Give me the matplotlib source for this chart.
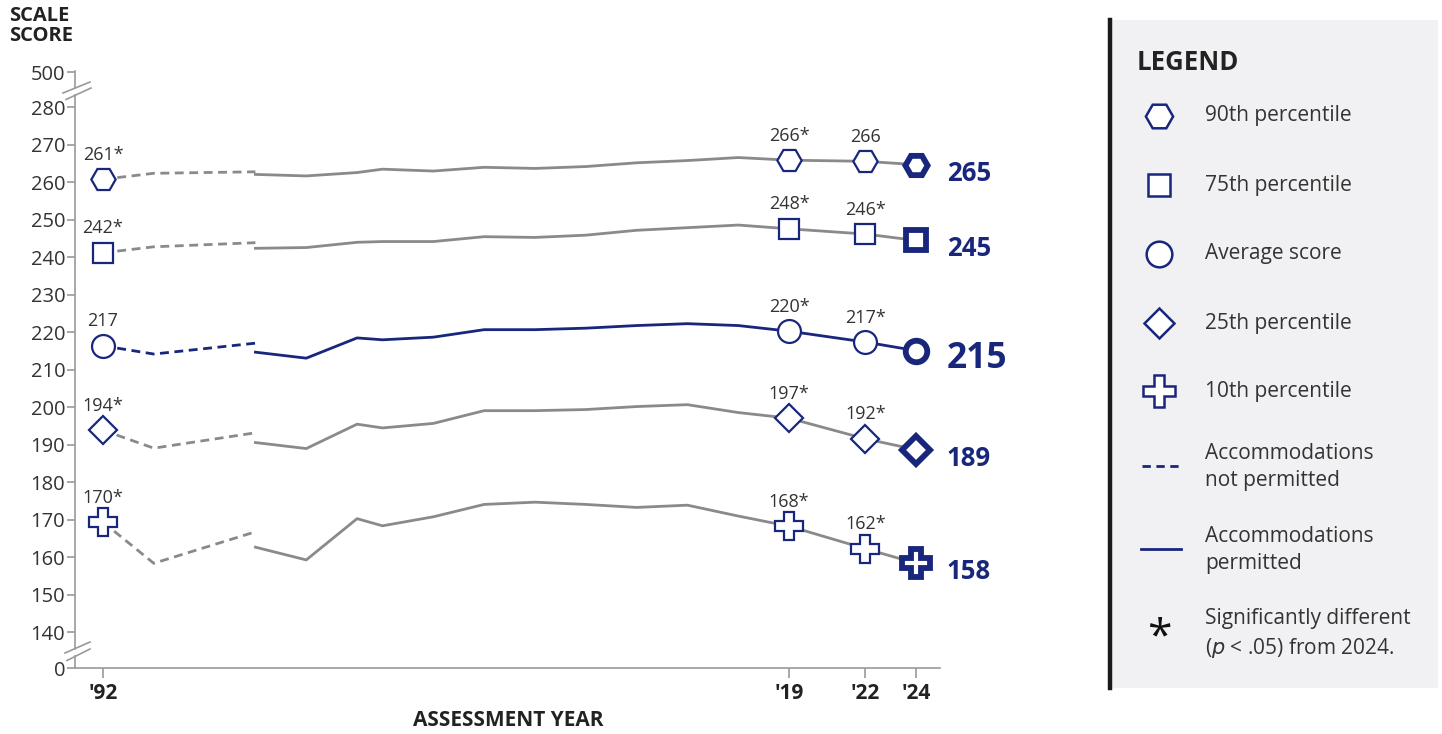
import matplotlib
matplotlib.use('Agg')
import matplotlib.pyplot as plt

plt.rcParams['font.family'] = ['Open Sans', 'DejaVu Sans']

NAVY = '#18267c'
GRAY = '#8a8a8a'
TXT = '#333333'

# years
years_np = [1992, 1994, 1998]          # accommodations not permitted
years_p = [1998, 2000, 2002, 2003, 2005, 2007, 2009, 2011, 2013, 2015, 2017, 2019, 2022, 2024]

# scale scores
p90_np = [260.8, 262.4, 262.8]
p90_p = [262.1, 261.7, 262.6, 263.5, 263.0, 264.0, 263.7, 264.2, 265.2, 265.8, 266.6, 265.9, 265.6, 264.7]
p75_np = [241.2, 242.8, 243.9]
p75_p = [242.4, 242.6, 244.0, 244.2, 244.2, 245.5, 245.3, 245.9, 247.2, 247.9, 248.6, 247.6, 246.2, 244.5]
avg_np = [216.4, 214.2, 217.1]
avg_p = [214.7, 213.1, 218.5, 218.0, 218.7, 220.7, 220.7, 221.1, 221.8, 222.3, 221.8, 220.3, 217.4, 215.1]
p25_np = [193.9, 189.1, 193.2]
p25_p = [190.6, 189.0, 195.5, 194.5, 195.7, 199.1, 199.1, 199.4, 200.2, 200.7, 198.6, 197.1, 191.6, 188.7]
p10_np = [169.4, 158.4, 166.8]
p10_p = [162.7, 159.3, 170.3, 168.4, 170.8, 174.1, 174.7, 174.1, 173.3, 173.9, 171.0, 168.3, 162.3, 158.4]

lab_92 = ['261*', '242*', '217', '194*', '170*']
lab_19 = ['266*', '248*', '220*', '197*', '168*']
lab_22 = ['266', '246*', '217*', '192*', '162*']
lab_24 = ['265', '245', '215', '189', '158']

legend_names = ['90th percentile', '75th percentile', 'Average score',
                '25th percentile', '10th percentile']

series_np = [p90_np, p75_np, avg_np, p25_np, p10_np]
series_p = [p90_p, p75_p, avg_p, p25_p, p10_p]
markers = ['H', 's', 'o', 'D', 'P']
ms_reg = [17.5, 14.5, 16.5, 14.0, 20.5]
ms_bold = [16.0, 14.5, 15.5, 14.5, 19.5]
line_cols = [GRAY, GRAY, NAVY, GRAY, GRAY]

W, H = 1442, 734
fig = plt.figure(figsize=(W / 100, H / 100), dpi=100)
ax = fig.add_axes([75 / W, (H - 668) / H, 865 / W, 600 / H])
ax.set_xlim(1990.9, 2024.94)
ax.set_ylim(130.48, 290.48)

dash = (3.2, 2.0)
for i in range(5):
    ax.plot(years_np, series_np[i], color=line_cols[i], lw=2.0, dashes=dash,
            zorder=2, solid_capstyle='butt', dash_capstyle='butt')
    ax.plot(years_p, series_p[i], color=line_cols[i], lw=2.0, zorder=2)
    # markers on 1992, 2019, 2022
    mx = [years_np[0], years_p[-3], years_p[-2]]
    my = [series_np[i][0], series_p[i][-3], series_p[i][-2]]
    ax.plot(mx, my, ls='none', marker=markers[i], ms=ms_reg[i], mfc='white',
            mec=NAVY, mew=1.6, zorder=3)
    ax.plot(years_p[-1], series_p[i][-1], ls='none', marker=markers[i],
            ms=ms_bold[i], mfc='white', mec=NAVY, mew=4.2, zorder=3)
    for x, y, t in zip(mx, my, [lab_92[i], lab_19[i], lab_22[i]]):
        ax.annotate(t, (x, y), xytext=(0, 14), textcoords='offset points',
                    ha='center', va='baseline', fontsize=13, color=TXT)
    big = 25.5 if i == 2 else 18.5
    ax.annotate(lab_24[i], (years_p[-1], series_p[i][-1]), xytext=(22, -6),
                textcoords='offset points', ha='left', va='center',
                fontsize=big, fontweight='bold', color=NAVY)

# axes styling
for s in ['top', 'right', 'left']:
    ax.spines[s].set_visible(False)
ax.spines['bottom'].set_color('#9a9a9a')
ax.spines['bottom'].set_linewidth(1.2)

yt = [130.48] + list(range(140, 290, 10)) + [289.33]
ytl = ['0'] + [str(v) for v in range(140, 290, 10)] + ['500']
ax.set_yticks(yt)
ax.set_yticklabels(ytl)
ax.tick_params(axis='y', length=6, width=1.2, color='#9a9a9a', labelsize=14.5,
               labelcolor=TXT, pad=1)
ax.set_xticks([1992, 2019, 2022, 2024])
ax.set_xticklabels(["'92", "'19", "'22", "'24"], fontweight='bold')
ax.tick_params(axis='x', length=7, width=1.2, color='#9a9a9a', labelsize=15,
               labelcolor='#222222', pad=4)

# broken y spine
tr = ax.get_yaxis_transform()
def pdat(ypx):
    return 140 + (632.3 - ypx) / 3.75
for y0, y1 in [(71, 88), (94.7, 648.6), (656.2, 668)]:
    ax.plot([0, 0], [pdat(y0), pdat(y1)], transform=tr, color='#9a9a9a',
            lw=1.2, clip_on=False)
for (x0, ya, x1, yb) in [(63, 93, 90, 82), (66, 99.5, 91, 88),
                         (65, 653, 90, 642), (67, 660.5, 90, 649)]:
    ax.plot([(x0 - 75) / 865, (x1 - 75) / 865], [pdat(ya), pdat(yb)],
            transform=tr, color='#9a9a9a', lw=1.2, clip_on=False)

fig.text(9 / W, 1 - 6 / H, 'SCALE\nSCORE', ha='left', va='top', fontsize=14.5,
         fontweight='bold', color='#222222', linespacing=1.0)
fig.text(508 / W, 1 - 721 / H, 'ASSESSMENT YEAR', ha='center', va='center',
         fontsize=15, fontweight='bold', color='#222222')

# legend panel
lg = fig.add_axes([1110 / W, (H - 688) / H, 328 / W, 668 / H])
lg.set_facecolor('#f1f1f3')
lg.set_xlim(0, 328)
lg.set_ylim(668, 0)
lg.set_xticks([])
lg.set_yticks([])
for s in ['top', 'right', 'bottom']:
    lg.spines[s].set_visible(False)
lg.spines['left'].set_color('#1a1a1a')
lg.spines['left'].set_linewidth(3.2)

lg.text(27, 42, 'LEGEND', ha='left', va='center', fontsize=18.5,
        fontweight='bold', color='#222222')
rows = [96, 165, 234, 303, 371]
for i in range(5):
    lg.plot(49, rows[i], marker=markers[i], ms=ms_reg[i] * 1.12, mfc='white',
            mec=NAVY, mew=1.8, clip_on=False)
    lg.text(95, rows[i], legend_names[i], ha='left', va='center', fontsize=15,
            color=TXT)
lg.plot([32, 69], [446, 446], color=NAVY, lw=2.0, dashes=(3.0, 2.0))
lg.text(95, 447, 'Accommodations\nnot permitted', ha='left', va='center',
        fontsize=15, color=TXT, linespacing=1.38)
lg.plot([31, 71], [529, 529], color=NAVY, lw=2.0)
lg.text(95, 530, 'Accommodations\npermitted', ha='left', va='center',
        fontsize=15, color=TXT, linespacing=1.38)
lg.text(49, 618, '*', ha='center', va='center', fontsize=32, color='#111111')
lg.text(95, 614, 'Significantly different\n($p$ < .05) from 2024.', ha='left',
        va='center', fontsize=15, color=TXT, linespacing=1.38)

fig.savefig('out.png', dpi=100)
